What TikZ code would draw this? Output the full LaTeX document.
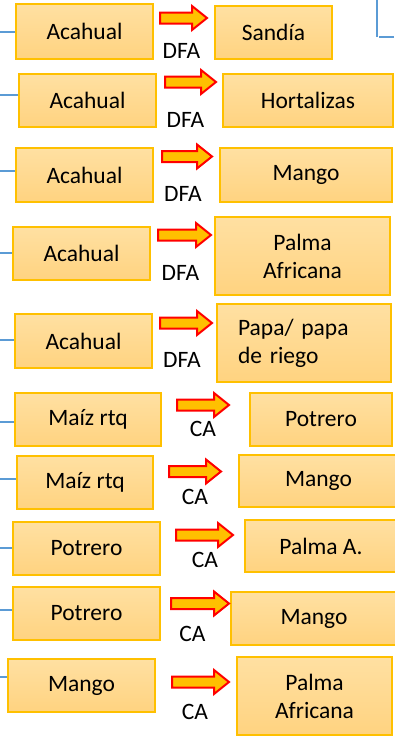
\documentclass[tikz,border=0pt]{standalone}
\usepackage{fontspec}
\setmainfont{Carlito}
\definecolor{oro}{RGB}{255,192,0}
\definecolor{cajaArriba}{RGB}{255,224,162}
\definecolor{cajaAbajo}{RGB}{255,211,128}
\definecolor{azulLinea}{RGB}{91,155,213}
\tikzset{
  caja/.style={draw=oro, line width=1.5pt, top color=cajaArriba, bottom color=cajaAbajo, align=center, inner sep=2pt},
  flecha/.style={draw=red, fill=oro, line width=2pt, line join=miter},
  linea/.style={draw=azulLinea, line width=2pt},
  etiq/.style={inner sep=0pt}
}
% flecha de bloque: x inicio, x punta, y centro
\newcommand{\flechaDer}[3]{\draw[flecha] (#1,#3) ++(0,-5.5) -- ++({#2-#1-15},0) -- ++(0,-6.5) -- (#2,#3) -- ++(-15,12) -- ++(0,-6.5) -- ++({-(#2-#1-15)},0) -- cycle;}
\begin{document}
\begin{tikzpicture}[x=1pt, y=-1pt, font=\fontsize{23.5}{28}\selectfont]
	\useasboundingbox (0,0) rectangle (394,736);
	% cajas de origen
	\node[caja, minimum width=137, minimum height=55] (o1) at (84.5,31.5) {Acahual};
	\node[caja, minimum width=137, minimum height=53] (o2) at (87.5,100.5) {Acahual};
	\node[caja, minimum width=137, minimum height=54] (o3) at (84.5,175) {Acahual};
	\node[caja, minimum width=137, minimum height=53] (o4) at (81.5,253.5) {Acahual};
	\node[caja, minimum width=137, minimum height=54] (o5) at (83.5,341) {Acahual};
	\node[caja, minimum width=146, minimum height=53] (o6) at (88,419.5) {Maíz rtq};
	\node[caja, minimum width=136, minimum height=53] (o7) at (85,482.5) {Maíz rtq};
	\node[caja, minimum width=147, minimum height=53] (o8) at (86.5,548.5) {Potrero};
	\node[caja, minimum width=147, minimum height=53] (o9) at (86.5,613.5) {Potrero};
	\node[caja, minimum width=147, minimum height=53] (o10) at (81.5,685.5) {Mango};
	% cajas de destino
	\node[caja, minimum width=117, minimum height=53] (d1) at (273.5,32.5) {Sandía};
	\node[caja, minimum width=170, minimum height=53] (d2) at (308,100.5) {Hortalizas};
	\node[caja, minimum width=172, minimum height=54] (d3) at (306,175) {Mango};
	\node[caja, minimum width=175, minimum height=78] (d4) at (302.5,256) {Palma\\Africana};
	\node[caja, minimum height=78, text width=132, inner xsep=21, align=left] (d5) at (304,343) {Papa/ papa\\de riego};
	\node[caja, minimum width=142, minimum height=53] (d6) at (321,419.5) {Potrero};
	\node[caja, minimum width=159, minimum height=52] (d7) at (318.5,481) {Mango};
	\node[caja, minimum width=152, minimum height=52] (d8) at (321,546) {Palma A.};
	\node[caja, minimum width=166, minimum height=53] (d9) at (314,618.5) {Mango};
	\node[caja, minimum width=155, minimum height=78] (d10) at (314.5,696) {Palma\\Africana};
	% flechas
	\flechaDer{160}{207}{18}
	\flechaDer{165}{216}{82}
	\flechaDer{162}{212}{156.5}
	\flechaDer{158}{211}{235}
	\flechaDer{160}{212}{323}
	\flechaDer{177}{229}{405}
	\flechaDer{169}{221}{471.5}
	\flechaDer{176}{233}{535}
	\flechaDer{171}{229}{603.5}
	\flechaDer{172}{229}{682}
	% etiquetas
	\node[etiq] (t1) at (181.5,50.5) {DFA};
	\node[etiq] (t2) at (185.5,119.5) {DFA};
	\node[etiq] (t3) at (183,194) {DFA};
	\node[etiq] (t4) at (180.5,273) {DFA};
	\node[etiq] (t5) at (182,359.5) {DFA};
	\node[etiq] (t6) at (203,429) {CA};
	\node[etiq] (t7) at (195,497) {CA};
	\node[etiq] (t8) at (205,560) {CA};
	\node[etiq] (t9) at (192.5,633.5) {CA};
	\node[etiq] (t10) at (195,711.5) {CA};
	% lineas de la izquierda
	\coordinate (e1) at (0,32);
	\coordinate (e2) at (0,95);
	\coordinate (e3) at (0,171);
	\coordinate (e4) at (0,253);
	\coordinate (e5) at (0,340);
	\coordinate (e6) at (0,421.5);
	\coordinate (e7) at (0,479);
	\coordinate (e8) at (0,548);
	\coordinate (e9) at (0,610);
	\coordinate (e10) at (0,677);
	\draw[linea] (e1) -- (e1 -| o1.west);
	\draw[linea] (e2) -- (e2 -| o2.west);
	\draw[linea] (e3) -- (e3 -| o3.west);
	\draw[linea] (e4) -- (e4 -| o4.west);
	\draw[linea] (e5) -- (e5 -| o5.west);
	\draw[linea] (e6) -- (e6 -| o6.west);
	\draw[linea] (e7) -- (e7 -| o7.west);
	\draw[linea] (e8) -- (e8 -| o8.west);
	\draw[linea] (e9) -- (e9 -| o9.west);
	\draw[linea] (e10) -- (e10 -| o10.west);
	% esquina de arriba a la derecha
	\coordinate (s1) at (377,0);
	\coordinate (s2) at (394,37);
	\draw[linea] (s1) -- (s1 |- 0,37);
	\draw[linea] (s2) -- (379,37);
\end{tikzpicture}
\end{document}
